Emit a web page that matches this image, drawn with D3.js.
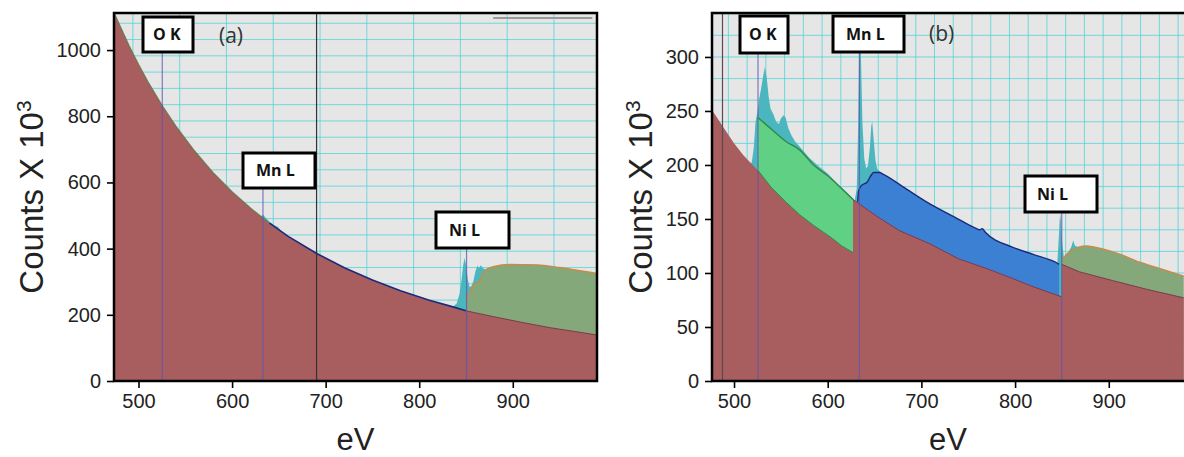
<!DOCTYPE html>
<html>
<head>
<meta charset="utf-8">
<script src="https://cdn.jsdelivr.net/npm/d3@7"></script>
<style>
  body { margin: 0; background: #fff; }
  svg { display: block; }
</style>
</head>
<body>
<svg id="chart" width="1184" height="457"></svg>
<script>
// ---------------- data: energy loss (eV) and counts (x 10^3) ----------------
const xTicks  = [500, 600, 700, 800, 900];
const yTicksA = [0, 200, 400, 600, 800, 1000];
const yTicksB = [0, 50, 100, 150, 200, 250, 300];

// (a) power-law background
const bgA_eV     = [474, 490, 500, 510, 525, 540, 560, 580, 600, 620, 640, 660, 690, 720, 750, 780, 810, 836, 850, 880, 910, 940, 970, 990];
const bgA_counts = [1112, 1013, 957, 905, 834, 770, 695, 629, 572, 522, 477, 437, 386, 342, 305, 273, 245, 224, 212, 194, 177, 161, 148, 139];
// (a) Ni L edge signal, upper boundary
const niA_eV     = [850, 851, 853, 856, 859, 862, 864, 867, 870, 874, 880, 896, 925, 950, 970, 990];
const niA_counts = [245, 255, 263, 280, 293, 298, 300, 318, 333, 341, 346, 352, 351, 343, 334, 325];
// (a) raw spectrum near the Mn L and Ni L edges
const rawA_Mn_eV     = [626, 631, 633, 635, 640, 646, 649, 652];
const rawA_Mn_counts = [505, 497, 502, 496, 481, 469, 466, 455];
const rawA_Ni_eV     = [836, 840, 843, 845, 847, 848.5, 850, 852, 854, 856, 858, 860, 862, 864, 866, 868, 871];
const rawA_Ni_counts = [224, 234, 262, 300, 350, 372, 352, 305, 283, 288, 303, 330, 348, 342, 350, 341, 338];

// (b) backgrounds fitted in front of each edge (three segments)
const bgB_eV     = [476.5, 490, 500, 510, 525.5, 540, 555, 570, 585, 605, 615, 627, 627, 632, 645, 655, 677, 709, 740, 770, 797, 820, 843, 849.8, 849.8, 869, 904, 940, 980];
const bgB_counts = [251, 233, 220, 209, 195, 179, 166, 154, 144, 132, 125, 119, 168, 165, 157, 151, 139, 127, 113, 104, 95, 87, 80, 78, 108, 101, 93, 85, 77];
// (b) O K edge signal, upper boundary
const okB_eV     = [525.5, 540, 555, 570, 585, 600, 615, 627];
const okB_counts = [244, 233, 222, 214, 200, 190, 178, 168];
// (b) Mn L edge signal, upper boundary
const mnB_eV     = [632, 633, 636, 642, 646, 649, 655, 660, 680, 709, 735, 759, 762, 765, 768, 797, 820, 843, 847];
const mnB_counts = [166, 176, 181, 184, 190, 193, 193, 191, 180, 164, 152, 141, 140, 141, 138, 124, 117, 110, 108];
// (b) Ni L edge signal, upper boundary
const niB_eV     = [849.8, 852, 856, 860, 864, 868, 876, 890, 910, 933, 955, 980];
const niB_counts = [110, 114, 118, 121, 122, 124, 125, 123, 118, 110, 104, 97];
// (b) raw spectrum
const rawB_O_eV      = [517, 519, 521, 523, 525, 527, 529, 531, 533, 535, 537, 539, 542, 545, 548, 550, 553, 555, 558, 561, 565, 570, 580, 590, 600, 610, 620, 627, 629];
const rawB_O_counts  = [199, 203, 215, 240, 249, 262, 271, 282, 291, 280, 263, 252, 247, 240, 238, 243, 246, 244, 234, 228, 222, 217, 207, 199, 192, 183, 175, 169, 167];
const rawB_Mn_eV     = [629, 631, 632.5, 633.5, 634.5, 635.5, 637, 639, 641, 643, 645, 646.5, 647.5, 649, 651, 653, 656];
const rawB_Mn_counts = [168, 178, 235, 300, 322, 300, 240, 206, 197, 199, 216, 236, 240, 224, 204, 196, 194];
const rawB_Ni_eV     = [845, 846.5, 848, 849, 850.5, 852, 856, 860, 862, 864, 868];
const rawB_Ni_counts = [108, 130, 155, 148, 126, 115, 118, 124, 130, 125, 124];

// edge onsets marked on each panel
const edgeNames = ["O K", "Mn L", "Ni L"];
const edgesA_eV = [525.4, 633, 850.6];
const edgesB_eV = [525.6, 633.8, 849.8];

// ---------------- layout & style ----------------
const C = {
  plotBg: "#e6e6e6",
  grid: "rgba(72, 212, 214, 0.75)",
  raw: "#4bb6be",
  bg: "#a85e5e",
  bgLine: "#7c3a4c",
  ok: "#5fd084",
  okLine: "#2f8a45",
  mn: "#3c80d4",
  mnLine: "#1b2a7a",
  ni: "#84a87a",
  niLine: "#c98a4a",
  edge: "rgba(92, 84, 176, 0.75)"
};

const svg = d3.select("#chart");
const zip = (es, vs) => es.map((e, i) => ({ e, v: vs[i] }));

function drawPanel(cfg) {
  const x = d3.scaleLinear().domain(cfg.xDom).range([cfg.left, cfg.right]);
  const y = d3.scaleLinear().domain(cfg.yDom).range([cfg.bottom, cfg.top]);
  const g = svg.append("g");

  const clipId = "clip-" + cfg.id;
  g.append("clipPath").attr("id", clipId)
    .append("rect")
    .attr("x", cfg.left).attr("y", cfg.top)
    .attr("width", cfg.right - cfg.left).attr("height", cfg.bottom - cfg.top);

  const plot = g.append("g").attr("clip-path", `url(#${clipId})`);
  plot.append("rect")
    .attr("x", cfg.left).attr("y", cfg.top)
    .attr("width", cfg.right - cfg.left).attr("height", cfg.bottom - cfg.top)
    .attr("fill", C.plotBg);

  // graph-paper grid
  plot.append("g").selectAll("line").data(cfg.gridX).join("line")
    .attr("x1", d => x(d)).attr("x2", d => x(d))
    .attr("y1", cfg.top).attr("y2", cfg.bottom)
    .attr("stroke", C.grid).attr("stroke-width", 1);
  plot.append("g").selectAll("line").data(cfg.gridY).join("line")
    .attr("y1", d => y(d)).attr("y2", d => y(d))
    .attr("x1", cfg.left).attr("x2", cfg.right)
    .attr("stroke", C.grid).attr("stroke-width", 1);

  const areaLin = d3.area().x(d => x(d.e)).y0(y(0)).y1(d => y(d.v));
  const areaSmooth = d3.area().curve(d3.curveMonotoneX).x(d => x(d.e)).y0(y(0)).y1(d => y(d.v));
  const lineLin = d3.line().x(d => x(d.e)).y(d => y(d.v));
  const lineSmooth = d3.line().curve(d3.curveMonotoneX).x(d => x(d.e)).y(d => y(d.v));

  // raw spectrum
  cfg.raw.forEach(s => plot.append("path").attr("d", areaLin(s)).attr("fill", C.raw));
  // edge signals
  cfg.signals.forEach(s => {
    plot.append("path").attr("d", areaSmooth(s.data)).attr("fill", s.fill);
  });
  // background
  plot.append("path").attr("d", areaLin(cfg.bg)).attr("fill", C.bg);
  // outlines
  cfg.signals.forEach(s => {
    plot.append("path").attr("d", lineSmooth(s.data)).attr("fill", "none")
      .attr("stroke", s.line).attr("stroke-width", 1.4);
  });
  cfg.bgLines.forEach(s => {
    plot.append("path").attr("d", lineLin(s.data)).attr("fill", "none")
      .attr("stroke", s.color).attr("stroke-width", s.width);
  });

  // edge onset markers
  cfg.edges.forEach(ed => {
    plot.append("line")
      .attr("x1", x(ed.e)).attr("x2", x(ed.e))
      .attr("y1", ed.from).attr("y2", cfg.bottom)
      .attr("stroke", C.edge).attr("stroke-width", 1.2);
  });
  // dark reference lines
  cfg.refLines.forEach(r => {
    plot.append("line")
      .attr("x1", x(r.e)).attr("x2", x(r.e))
      .attr("y1", cfg.top).attr("y2", cfg.bottom)
      .attr("stroke", r.color).attr("stroke-width", 1.2);
  });
  if (cfg.topRule) {
    plot.append("line")
      .attr("x1", x(cfg.topRule.e0)).attr("x2", x(cfg.topRule.e1))
      .attr("y1", y(cfg.topRule.v)).attr("y2", y(cfg.topRule.v))
      .attr("stroke", "#9a9a9a").attr("stroke-width", 2);
  }

  // edge labels
  cfg.edges.forEach(ed => {
    const b = ed.box;
    g.append("rect")
      .attr("x", b.x).attr("y", b.y).attr("width", b.w).attr("height", b.h)
      .attr("fill", "#fff").attr("stroke", "#000").attr("stroke-width", 3);
    g.append("text")
      .attr("x", b.x + b.pad).attr("y", b.y + b.h / 2 + 5.8)
      .attr("font-family", "'Open Sans', 'DejaVu Sans', sans-serif")
      .attr("font-weight", 700).attr("font-size", 16).attr("fill", "#111")
      .text(ed.name);
  });
  g.append("text")
    .attr("x", cfg.tag.x).attr("y", cfg.tag.y)
    .attr("font-family", "'Open Sans', sans-serif")
    .attr("font-size", 21).attr("fill", "#333")
    .text(cfg.tag.text);

  // frame
  g.append("rect")
    .attr("x", cfg.left).attr("y", cfg.top)
    .attr("width", cfg.frameRight - cfg.left).attr("height", cfg.bottom - cfg.top)
    .attr("fill", "none").attr("stroke", "#000").attr("stroke-width", 2.5);

  // axes
  const font = "'Liberation Sans', Arial, sans-serif";
  const ax = g.append("g").attr("transform", `translate(0,${cfg.bottom})`)
    .call(d3.axisBottom(x).tickValues(xTicks).tickFormat(d3.format("d")).tickSize(7).tickPadding(6));
  const ay = g.append("g").attr("transform", `translate(${cfg.left},0)`)
    .call(d3.axisLeft(y).tickValues(cfg.yTicks).tickFormat(d3.format("d")).tickSize(7).tickPadding(6));
  [ax, ay].forEach(a => {
    a.select(".domain").remove();
    a.selectAll(".tick line").attr("stroke", "#000").attr("stroke-width", 1.6);
    a.selectAll(".tick text").attr("font-family", font).attr("font-size", 20).attr("fill", "#222");
  });

  // axis titles
  g.append("text")
    .attr("x", (cfg.left + cfg.right) / 2).attr("y", 450)
    .attr("text-anchor", "middle")
    .attr("font-family", font).attr("font-size", 31).attr("fill", "#222")
    .text("eV");
  const yt = g.append("text")
    .attr("transform", `translate(${cfg.yTitleX},197) rotate(-90)`)
    .attr("text-anchor", "middle")
    .attr("font-family", font).attr("font-size", 33).attr("fill", "#222");
  yt.append("tspan").text("Counts X 10");
  yt.append("tspan").attr("dy", "-0.55em").attr("font-size", 21).text("3");
}

// ---------------- panel (a) ----------------
const bgA = zip(bgA_eV, bgA_counts);
drawPanel({
  id: "a",
  left: 114, right: 597, frameRight: 597, top: 13, bottom: 381,
  xDom: [473.8, 990], yDom: [0, 1112],
  yTicks: yTicksA,
  gridX: d3.range(494, 990, 50),
  gridY: d3.range(1081, 0, -49.2),
  raw: [zip(rawA_Mn_eV, rawA_Mn_counts), zip(rawA_Ni_eV, rawA_Ni_counts)],
  signals: [{ data: zip(niA_eV, niA_counts), fill: C.ni, line: C.niLine }],
  bg: bgA,
  bgLines: [
    { data: bgA.filter(d => d.e <= 640), color: "rgba(90,120,70,0.8)", width: 1.2 },
    { data: bgA.filter(d => d.e >= 640 && d.e <= 850), color: C.mnLine, width: 1.6 },
    { data: bgA.filter(d => d.e >= 850), color: C.bgLine, width: 1 }
  ],
  edges: [
    { name: edgeNames[0], e: edgesA_eV[0], from: 52,  box: { x: 143, y: 17,  w: 50, h: 35, pad: 10 } },
    { name: edgeNames[1], e: edgesA_eV[1], from: 188, box: { x: 243, y: 153, w: 72, h: 35, pad: 13 } },
    { name: edgeNames[2], e: edgesA_eV[2], from: 248, box: { x: 436, y: 212, w: 73, h: 36, pad: 13 } }
  ],
  refLines: [{ e: 690.3, color: "#333" }],
  topRule: { e0: 879, e1: 985, v: 1097 },
  tag: { text: "(a)", x: 219, y: 43 },
  yTitleX: 43
});

// ---------------- panel (b) ----------------
const bgB = zip(bgB_eV, bgB_counts);
drawPanel({
  id: "b",
  left: 712, right: 1184, frameRight: 1190, top: 13, bottom: 381,
  xDom: [476.5, 980.3], yDom: [0, 340.7],
  yTicks: yTicksB,
  gridX: d3.range(494, 990, 20),
  gridY: d3.range(20, 341, 20),
  raw: [zip(rawB_O_eV, rawB_O_counts), zip(rawB_Mn_eV, rawB_Mn_counts), zip(rawB_Ni_eV, rawB_Ni_counts)],
  signals: [
    { data: zip(okB_eV, okB_counts), fill: C.ok, line: C.okLine },
    { data: zip(mnB_eV, mnB_counts), fill: C.mn, line: C.mnLine },
    { data: zip(niB_eV, niB_counts), fill: C.ni, line: C.niLine }
  ],
  bg: bgB,
  bgLines: [
    { data: bgB.slice(4, 12), color: C.okLine, width: 1 },
    { data: bgB.slice(12, 24), color: C.bgLine, width: 1 },
    { data: bgB.slice(24), color: C.bgLine, width: 1 }
  ],
  edges: [
    { name: edgeNames[0], e: edgesB_eV[0], from: 53,  box: { x: 740,  y: 16,  w: 48, h: 37, pad: 9 } },
    { name: edgeNames[1], e: edgesB_eV[1], from: 52,  box: { x: 833,  y: 16,  w: 71, h: 36, pad: 13 } },
    { name: edgeNames[2], e: edgesB_eV[2], from: 212, box: { x: 1025, y: 176, w: 72, h: 36, pad: 12 } }
  ],
  refLines: [{ e: 487.7, color: "#5a4a55" }],
  topRule: null,
  tag: { text: "(b)", x: 929, y: 41 },
  yTitleX: 652
});
</script>
</body>
</html>
